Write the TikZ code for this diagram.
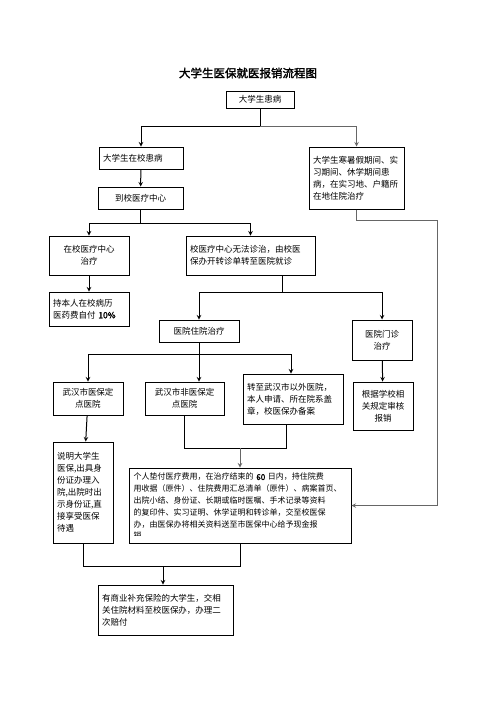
\documentclass[tikz,border=0pt]{standalone}
\usepackage{fontspec}
\setmainfont{Noto Sans CJK SC}[AutoFakeBold=2]
\usepackage{tikz}

\begin{document}
\begin{tikzpicture}[x=1pt, y=-1pt]
        \useasboundingbox (0,0) rectangle (496,702);
        \node [font=\fontsize{11.5}{14}\selectfont\bfseries] (title) at (248,73) {大学生医保就医报销流程图};
        \begin{scope}[every node/.style={draw, line width=1pt, inner sep=4pt, font=\fontsize{8.5}{12}\selectfont}]
                \node [minimum width=68, minimum height=17] (sick) at (260,99.5) {大学生患病};
                \node [minimum width=84, minimum height=22, text width=76, align=left] (oncampus) at (141,158) {大学生在校患病};
                \node [minimum width=85, minimum height=22] (center) at (140.5,198) {到校医疗中心};
                \node [minimum width=95, minimum height=62, text width=87, align=left] (away) at (356.5,178) {大学生寒暑假期间、实\\习期间、休学期间患\\病，在实习地、户籍所\\在地住院治疗};
                \node [minimum width=80, minimum height=39, align=center] (clinic) at (89,255.5) {在校医疗中心\\治疗};
                \node [minimum width=129, minimum height=39, text width=121, align=left] (referral) at (250.5,255.5) {校医疗中心无法诊治，由校医\\保办开转诊单转至医院就诊};
                \node [minimum width=80, minimum height=34, text width=72, align=left] (selfpay) at (89,309) {持本人在校病历\\医药费自付 \textbf{10\%}};
                \node [minimum width=80, minimum height=22] (inpatient) at (199,331) {医院住院治疗};
                \node [minimum width=60, minimum height=40, align=center] (outpatient) at (382,340) {医院门诊\\治疗};
                \node [minimum width=70, minimum height=33, align=center] (designated) at (88,398.5) {武汉市医保定\\点医院};
                \node [minimum width=79, minimum height=33, align=center] (nondesignated) at (184.5,398.5) {武汉市非医保定\\点医院};
                \node [minimum width=100, minimum height=50, text width=92, align=left] (outside) at (293,399) {转至武汉市以外医院，\\本人申请、所在院系盖\\章，校医保办备案};
                \node [minimum width=60, minimum height=48, align=center] (review) at (383,406) {根据学校相\\关规定审核\\报销};
                \node [minimum width=60, minimum height=101, text width=52, align=left] (direct) at (83,492.5) {说明大学生\\医保,出具身\\份证办理入\\院,出院时出\\示身份证,直\\接享受医保\\待遇};
                \node [minimum width=222, minimum height=75] (claim) at (240,505.5) {};
                \node [minimum width=135, minimum height=50, text width=127, align=left] (final) at (165.5,610) {有商业补充保险的大学生，交相\\关住院材料至校医保办，办理二\\次赔付};
        \end{scope}
        % text of the big box, cut off at its lower edge
        \begin{scope}
                \clip (claim.north west) rectangle ([yshift=8pt]claim.south east);
                \node [anchor=north west, text width=212, align=left, inner sep=0pt, font=\fontsize{8}{11.8}\selectfont] (claimtext) at ([shift={(5,5.5)}]claim.north west) {个人垫付医疗费用，在治疗结束的 \textbf{60} 日内，持住院费\\用收据（原件）、住院费用汇总清单（原件）、病案首页、\\出院小结、身份证、长期或临时医嘱、手术记录等资料\\的复印件、实习证明、休学证明和转诊单，交至校医保\\办，由医保办将相关资料送至市医保中心给予现金报\\销};
        \end{scope}
        \coordinate (split1) at (260,126);
        \coordinate (split2) at (140.5,223);
        \coordinate (split3) at (282,292);
        \coordinate (split4) at (199,354);
        \coordinate (bypass) at (437,220);
        \coordinate (merge1) at (240,448);
        \coordinate (merge2) at (163,566);
        \begin{scope}[every path/.style={line width=1pt, >=stealth}]
                \draw (sick) -- (split1);
                \draw [->] (split1) -| (oncampus);
                \draw [->, black!60] (split1) -| (away);
                \draw [->] (oncampus) -- (center);
                \draw (center) -- (split2);
                \draw [->] (split2) -| (clinic);
                \draw [->] (split2) -| (referral);
                \draw [->] (clinic) -- (selfpay);
                \draw (referral.south -| split3) -- (split3);
                \draw [->] (split3) -| (inpatient);
                \draw [->] (split3) -| (outpatient);
                \draw [black!60] (away) |- (bypass);
                \draw [->, black!60] (bypass) |- (claim.east);
                \draw (inpatient) -- (split4);
                \draw [->] (split4) -| (designated);
                \draw [->] (split4) -- (split4 |- nondesignated.north);
                \draw [->] (split4) -| ([xshift=-2pt]outside.north);
                \draw [->] (outpatient) -- (review);
                \draw [->] (designated) -- (direct);
                \draw (nondesignated) |- (merge1);
                \draw ([xshift=-7pt]outside.south) |- (merge1);
                \draw [->, black!60] (merge1) -- (claim);
                \draw (direct) |- (merge2);
                \draw (claim) |- (merge2);
                \draw [->] (merge2) -- (merge2 |- final.north);
        \end{scope}
\end{tikzpicture}
\end{document}
